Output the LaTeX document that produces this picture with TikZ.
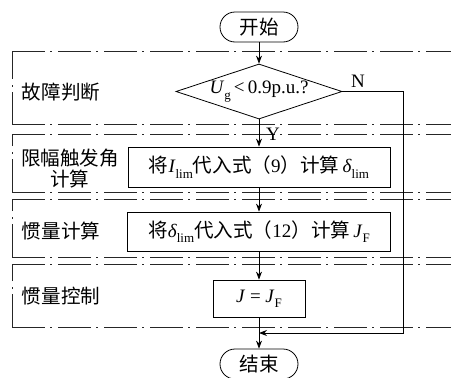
\documentclass[tikz,border=0pt]{standalone}
\usepackage{fontspec}
\setmainfont{Liberation Serif}
\newfontfamily\cjk[Scale=1.03]{Noto Sans CJK SC}
\usetikzlibrary{arrows.meta,shapes.geometric,shapes.misc}
\newcommand\lsub[1]{\raisebox{-0.28em}{\fontsize{13}{13}\selectfont #1}}
\begin{document}
\begin{tikzpicture}[x=1pt,y=-1pt,
  font=\fontsize{19}{22}\selectfont,
  line width=0.8pt,
  frame/.style={line width=0.85pt, draw=black!85, dash pattern=on 33pt off 5pt on 2pt off 6pt},
  term/.style={rounded rectangle, draw, minimum width=78pt, minimum height=30pt, inner sep=0pt},
  proc/.style={rectangle, draw, inner sep=0pt},
  lab/.style={font={\fontsize{19}{21}\selectfont\cjk}, align=center, inner sep=0pt},
  arr/.style={-{Stealth[length=8pt,width=6pt]}}]
\useasboundingbox (0,0) rectangle (451,378);
\clip (0,0) rectangle (451,378);
% section frames
\foreach \t/\b in {51/124.5, 134/192, 199/257, 264/327}{
  \draw[frame] (12,\t) -- (452,\t);
  \draw[frame] (12,\b) -- (452,\b);
  \draw[frame] (12,\b) -- (12,\t);
}
% nodes
\node[term] (start) at (259,27) {\cjk 开始};
\node[diamond, draw, minimum width=166pt, minimum height=55pt, inner sep=0pt] (dia) at (259,91.5) {};
\node (diat) at (dia.center) {\textit{U}\lsub{g}\,<\,0.9p.u.?};
\node[proc, minimum width=262pt, minimum height=40pt] (b2) at (259,167)
  {{\cjk 将}\textit{I}\lsub{lim}{\cjk 代入式（}9{\cjk ）计算}\,\textit{δ}\lsub{lim}};
\node[proc, minimum width=263pt, minimum height=39pt] (b3) at (259,231.5)
  {{\cjk 将}\textit{δ}\lsub{lim}{\cjk 代入式（}12{\cjk ）计算}\,\textit{J}\lsub{F}};
\node[proc, minimum width=92pt, minimum height=37pt] (b4) at (259,298.5)
  {\textit{J} = \textit{J}\lsub{F}};
\node[term] (end) at (259,364) {\cjk 结束};
% side labels
\node[lab] (l1) at (61,92) {故障判断};
\node[lab] (l2) at (70,169) {限幅触发角\\计算};
\node[lab] (l3) at (61,231) {惯量计算};
\node[lab] (l4) at (61,296) {惯量控制};
\node (nl) at (358,81) {N};
\node (yl) at (273,134) {Y};
% connectors
\coordinate (rt) at (403,91.5);
\coordinate (rb) at (403,333);
\coordinate (mg) at (259,333);
\draw[arr] (start.south) -- (dia.north);
\draw[arr] (dia.south) -- (b2.north);
\draw[arr] (b2.south) -- (b3.north);
\draw[arr] (b3.south) -- (b4.north);
\draw[arr] (b4.south) -- (end.north);
\draw[arr] (dia.east) -- (rt) -- (rb) -- (mg);
\end{tikzpicture}
\end{document}
